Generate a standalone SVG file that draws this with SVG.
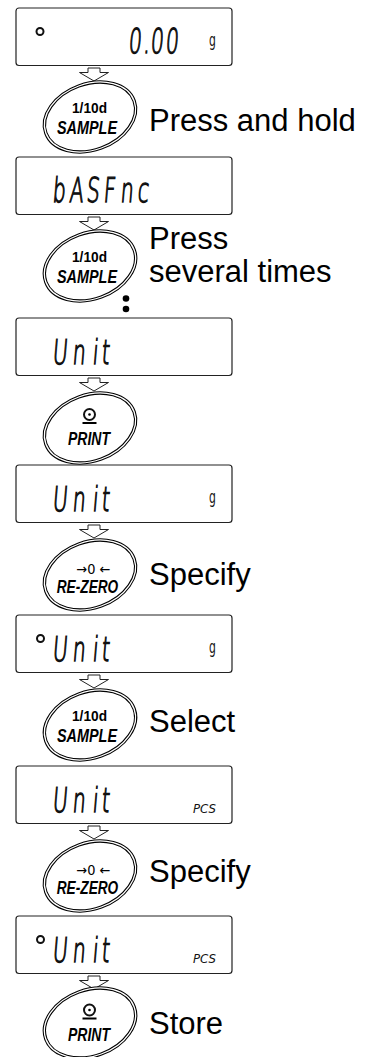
<svg xmlns="http://www.w3.org/2000/svg" xmlns:xlink="http://www.w3.org/1999/xlink" width="374" height="1057" viewBox="0 0 374 1057">
<style>
.box{fill:#fff;stroke:#222;stroke-width:1.2}
.arr{fill:#fff;stroke:#222;stroke-width:1}
.lcd{font-family:"DejaVu Sans",sans-serif;font-size:34px;font-weight:200;fill:#111;stroke:#111;stroke-width:1.3}
.unit{font-family:"DejaVu Sans",sans-serif;font-size:18px;fill:#111}
.pcs{font-family:"DejaVu Sans",sans-serif;font-size:12.5px;font-style:italic;fill:#111}
.lab{font-family:"Liberation Sans",Arial,sans-serif;font-size:31px;fill:#000}
.k1{font-family:"Liberation Sans",Arial,sans-serif;font-weight:bold;font-size:15px;fill:#000}
.k2{font-family:"Liberation Sans",Arial,sans-serif;font-weight:bold;font-style:italic;font-size:17.5px;fill:#000}
.k3{font-family:"DejaVu Sans",sans-serif;font-size:14px;fill:#000}
.bo{fill:#fff;stroke:#000;stroke-width:3.4}
.bi{fill:none;stroke:#fff;stroke-width:1.3}
.stab{fill:none;stroke:#111;stroke-width:2}
</style>
<defs>
<g id="btn"><ellipse class="bo" rx="47" ry="33" transform="rotate(-20)"/><ellipse class="bi" rx="47" ry="33" transform="rotate(-20)"/></g>
<polygon id="dn" class="arr" points="-6,0 6,0 6,4.5 14.5,4.5 0,13 -14.5,4.5 -6,4.5"/>
</defs>

<g id="connectors">
<use xlink:href="#dn" x="94" y="68"/>
<use xlink:href="#dn" x="94" y="217"/>
<use xlink:href="#dn" x="94" y="378"/>
<use xlink:href="#dn" x="94" y="525"/>
<use xlink:href="#dn" x="94" y="675"/>
<use xlink:href="#dn" x="94" y="826"/>
<use xlink:href="#dn" x="94" y="976"/>
</g>

<g id="display1">
<rect class="box" x="16" y="8" width="216" height="57.5" rx="3"/>
<circle class="stab" cx="40" cy="31.5" r="3.5"/>
<text class="lcd" transform="translate(128 53) scale(0.6 1) skewX(-8)" x="0 25 36.7 61.7">0.00</text>
<text class="unit" transform="translate(209 46) scale(0.6 1)">g</text>
</g>

<g id="key1">
<use xlink:href="#btn" x="90" y="117"/>
<text class="k1" x="89.5" y="113" text-anchor="middle" textLength="35" lengthAdjust="spacingAndGlyphs">1/10d</text>
<text class="k2" x="87" y="134" text-anchor="middle" textLength="60" lengthAdjust="spacingAndGlyphs">SAMPLE</text>
<text class="lab" x="149" y="131">Press and hold</text>
</g>

<g id="display2">
<rect class="box" x="16" y="157" width="216" height="57.5" rx="3"/>
<text class="lcd" transform="translate(52 202) scale(0.6 1) skewX(-8)" x="0 28.3 56.7 85 113.3 141.7">bASFnc</text>
</g>

<g id="key2">
<use xlink:href="#btn" x="90" y="266"/>
<text class="k1" x="89.5" y="262" text-anchor="middle" textLength="35" lengthAdjust="spacingAndGlyphs">1/10d</text>
<text class="k2" x="87" y="283" text-anchor="middle" textLength="60" lengthAdjust="spacingAndGlyphs">SAMPLE</text>
<text class="lab" x="149" y="249">Press</text>
<text class="lab" x="149" y="281.5">several times</text>
<circle cx="126" cy="298.5" r="3.3" fill="#000"/>
<circle cx="126" cy="309" r="3.3" fill="#000"/>
</g>

<g id="display3">
<rect class="box" x="16" y="318" width="216" height="57.5" rx="3"/>
<text class="lcd" transform="translate(52 364) scale(0.6 1) skewX(-8)" x="0 33.3 66.7 81.7">Unit</text>
</g>

<g id="key3">
<use xlink:href="#btn" x="90" y="428"/>
<circle class="stab" cx="89.5" cy="414.5" r="5.5"/>
<circle cx="89.5" cy="414.5" r="1.3" fill="#000"/>
<line x1="82.5" y1="423" x2="96.5" y2="423" stroke="#000" stroke-width="2"/>
<text class="k2" x="89" y="445" text-anchor="middle" textLength="42" lengthAdjust="spacingAndGlyphs">PRINT</text>
</g>

<g id="display4">
<rect class="box" x="16" y="465" width="216" height="57.5" rx="3"/>
<text class="lcd" transform="translate(52 511) scale(0.6 1) skewX(-8)" x="0 33.3 66.7 81.7">Unit</text>
<text class="unit" transform="translate(209 503) scale(0.6 1)">g</text>
</g>

<g id="key4">
<use xlink:href="#btn" x="90" y="575"/>
<text class="k3" x="93.3" y="574" text-anchor="middle" textLength="34" lengthAdjust="spacingAndGlyphs">→0 ←</text>
<text class="k2" x="87.5" y="593" text-anchor="middle" textLength="61.5" lengthAdjust="spacingAndGlyphs">RE-ZERO</text>
<text class="lab" x="149" y="585">Specify</text>
</g>

<g id="display5">
<rect class="box" x="16" y="615" width="216" height="57.5" rx="3"/>
<circle class="stab" cx="40.5" cy="638.5" r="3.5"/>
<text class="lcd" transform="translate(52 661) scale(0.6 1) skewX(-8)" x="0 33.3 66.7 81.7">Unit</text>
<text class="unit" transform="translate(209 653) scale(0.6 1)">g</text>
</g>

<g id="key5">
<use xlink:href="#btn" x="90" y="725"/>
<text class="k1" x="89.5" y="721" text-anchor="middle" textLength="35" lengthAdjust="spacingAndGlyphs">1/10d</text>
<text class="k2" x="87" y="742" text-anchor="middle" textLength="60" lengthAdjust="spacingAndGlyphs">SAMPLE</text>
<text class="lab" x="149" y="732">Select</text>
</g>

<g id="display6">
<rect class="box" x="16" y="766" width="216" height="57.5" rx="3"/>
<text class="lcd" transform="translate(52 812) scale(0.6 1) skewX(-8)" x="0 33.3 66.7 81.7">Unit</text>
<text class="pcs" x="193" y="813" textLength="23" lengthAdjust="spacingAndGlyphs">PCS</text>
</g>

<g id="key6">
<use xlink:href="#btn" x="90" y="876"/>
<text class="k3" x="93.3" y="875" text-anchor="middle" textLength="34" lengthAdjust="spacingAndGlyphs">→0 ←</text>
<text class="k2" x="87.5" y="894" text-anchor="middle" textLength="61.5" lengthAdjust="spacingAndGlyphs">RE-ZERO</text>
<text class="lab" x="149" y="882">Specify</text>
</g>

<g id="display7">
<rect class="box" x="16" y="916" width="216" height="57.5" rx="3"/>
<circle class="stab" cx="40.5" cy="939.5" r="3.5"/>
<text class="lcd" transform="translate(52 962) scale(0.6 1) skewX(-8)" x="0 33.3 66.7 81.7">Unit</text>
<text class="pcs" x="193" y="963" textLength="23" lengthAdjust="spacingAndGlyphs">PCS</text>
</g>

<g id="key7">
<use xlink:href="#btn" x="90" y="1023"/>
<circle class="stab" cx="89.5" cy="1010" r="5.5"/>
<circle cx="89.5" cy="1010" r="1.3" fill="#000"/>
<line x1="82.5" y1="1018.5" x2="96.5" y2="1018.5" stroke="#000" stroke-width="2"/>
<text class="k2" x="89" y="1040.5" text-anchor="middle" textLength="42" lengthAdjust="spacingAndGlyphs">PRINT</text>
<text class="lab" x="149" y="1034">Store</text>
</g>
</svg>
